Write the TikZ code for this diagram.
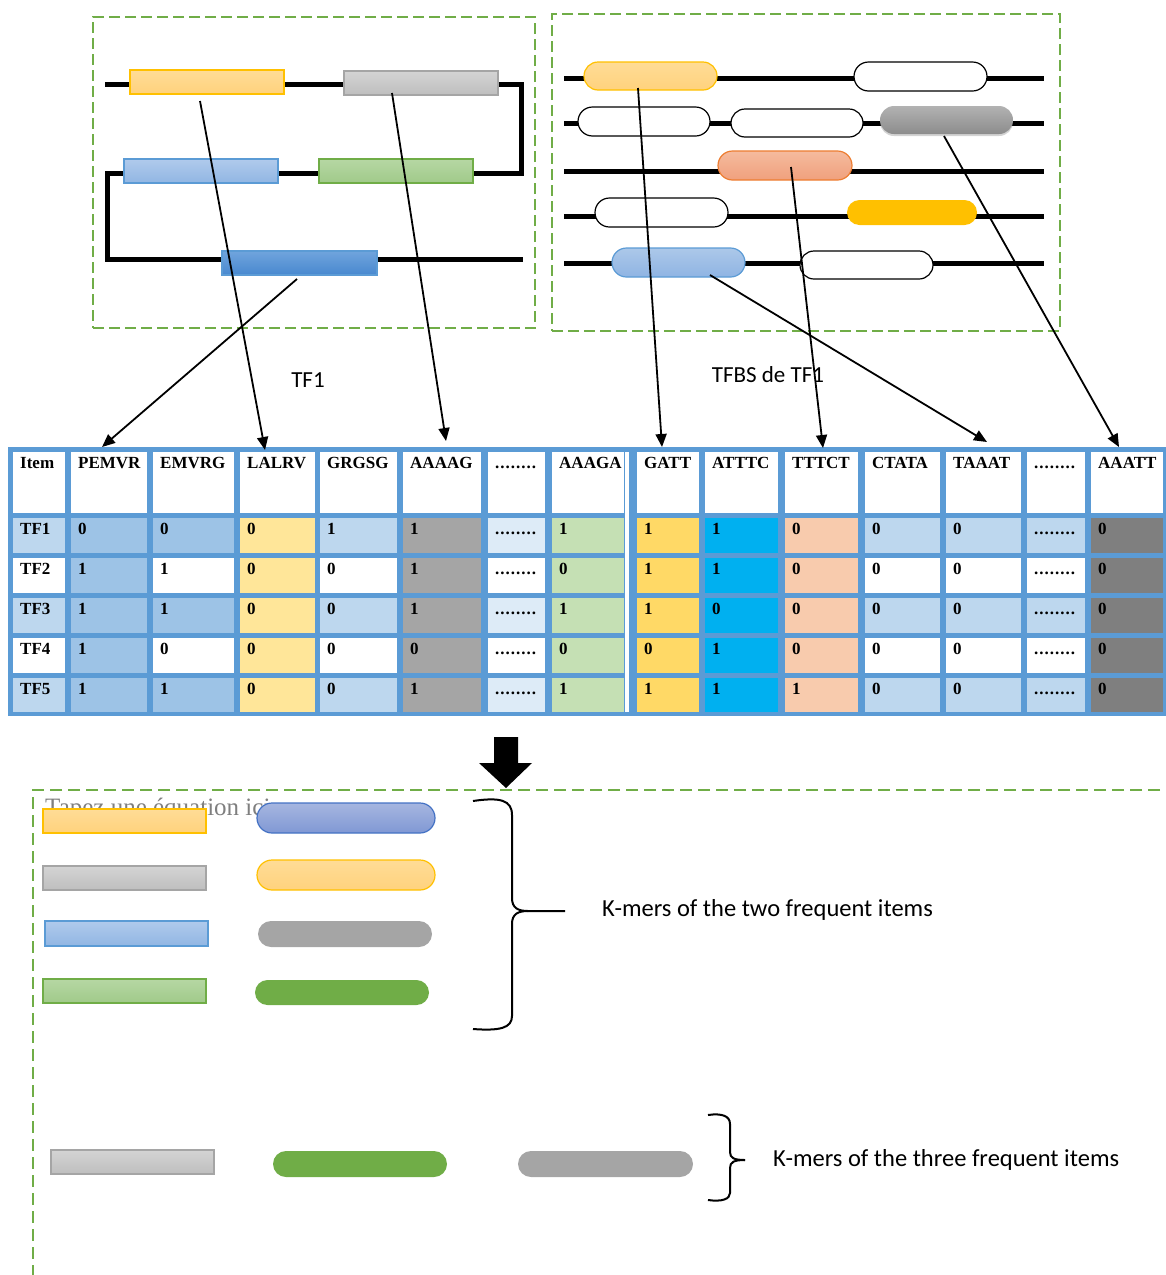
\documentclass[tikz,border=0pt]{standalone}
\usepackage{fontspec}
\setmainfont{Liberation Serif}
\newfontfamily\calib{Carlito}
\usetikzlibrary{arrows.meta,shapes.misc,shadows}
\definecolor{dgreen}{HTML}{70AD47}
\definecolor{tblue}{HTML}{5B9BD5}
\definecolor{lb}{HTML}{BDD7EE}
\definecolor{mb}{HTML}{9DC3E6}
\definecolor{vlb}{HTML}{DDEBF7}
\definecolor{ly}{HTML}{FFE699}
\definecolor{gA}{HTML}{A5A5A5}
\definecolor{lg}{HTML}{C5E0B4}
\definecolor{goldc}{HTML}{FFD966}
\definecolor{cyanb}{HTML}{00B0F0}
\definecolor{peach}{HTML}{F8CBAD}
\definecolor{dg}{HTML}{7F7F7F}
\definecolor{orY}{HTML}{FFC000}
\definecolor{salB}{HTML}{ED7D31}
\definecolor{purB}{HTML}{4472C4}
\newcommand\dts{.\kern1pt.\kern1pt.\kern1pt.\kern1pt.\kern1pt.\kern1pt.\kern1pt.}
\newcommand\boxat[6]{\node[#1, minimum width={#5-#3}, minimum height={#6-#4}] (#2) at ({(#3+#5)/2},{(#4+#6)/2}) {};}
\newcommand\tcell[7]{%
  \node[inner sep=0, outer sep=0, fill=#6, minimum width={#3-#2}, minimum height={#5-#4}] (#1) at ({(#2+#3)/2},{(#4+#5)/2}) {};
  \node[tval, anchor=base west] at ([shift={(7,16)}]#1.north west) {#7};}
\tikzset{
  dashbox/.style={draw=dgreen, line width=2.2pt, dash pattern=on 11pt off 5pt, inner sep=0, outer sep=0},
  dna/.style={line width=5pt},
  seg/.style={rectangle, inner sep=0, outer sep=0, line width=1.2pt},
  pill/.style={rounded rectangle, inner sep=0, outer sep=0, line width=1.2pt},
  wpill/.style={pill, draw=black, fill=white},
  arr/.style={line width=1.8pt, -{Triangle[length=13pt,width=11pt]}},
  tval/.style={inner sep=0, font=\bfseries\fontsize{17}{17}\selectfont},
  lab/.style={font=\calib\fontsize{23}{25}\selectfont, inner sep=0},
  klab/.style={font=\calib\fontsize{24.5}{26}\selectfont, inner sep=0},
  brace/.style={line width=2pt},
  yrect/.style={seg, draw=orY, top color={rgb,255:red,255;green,220;blue,150}, bottom color={rgb,255:red,255;green,210;blue,125}},
  grect/.style={seg, draw=gA, top color={rgb,255:red,212;green,212;blue,212}, bottom color={rgb,255:red,190;green,190;blue,190}},
  brect/.style={seg, draw=tblue, top color={rgb,255:red,176;green,202;blue,236}, bottom color={rgb,255:red,145;green,182;blue,227}},
  lgrect/.style={seg, draw=dgreen, top color={rgb,255:red,182;green,215;blue,163}, bottom color={rgb,255:red,160;green,202;blue,138}},
}
\begin{document}
\begin{tikzpicture}[x=1pt,y=-1pt]
\useasboundingbox (0,0) rectangle (1166,1275);
% ---------- top-left box
\boxat{dashbox}{boxL}{93}{17}{535}{328}
\draw[dna] (105,84) -- (521,84) -- (521,173) -- (107,173) -- (107,259) -- (523,259);
\boxat{yrect}{L1}{130}{70}{284}{94}
\boxat{grect}{L2}{344}{71}{498}{95}
\boxat{brect}{L3}{124}{159}{278}{183}
\boxat{lgrect}{L4}{319}{159}{473}{183}
\boxat{seg, draw=tblue, top color={rgb,255:red,112;green,164;blue,221}, bottom color={rgb,255:red,72;green,136;blue,207}}{L5}{222}{251}{377}{275}
% ---------- top-right box
\boxat{dashbox}{boxR}{552}{14}{1060}{331}
\foreach \yy in {78,123,171,216,263} {\draw[dna] (564,\yy) -- (1044,\yy);}
\boxat{pill, draw=orY, top color={rgb,255:red,255;green,220;blue,150}, bottom color={rgb,255:red,255;green,210;blue,125}}{R1}{584}{62}{717}{90}
\boxat{wpill}{R2}{854}{62}{987}{91}
\boxat{wpill}{R3}{578}{107}{710}{136}
\boxat{wpill}{R4}{731}{109}{863}{137}
\boxat{pill, top color={rgb,255:red,178;green,178;blue,178}, bottom color={rgb,255:red,140;green,140;blue,140}, drop shadow={shadow xshift=0pt, shadow yshift=-2pt, opacity=0.35}}{R5}{880}{106}{1013}{134}
\boxat{pill, draw=salB, top color={rgb,255:red,245;green,187;blue,158}, bottom color={rgb,255:red,240;green,160;blue,125}}{R6}{718}{151}{852}{180}
\boxat{wpill}{R7}{595}{198}{728}{227}
\boxat{pill, fill=orY}{R8}{847}{200}{977}{225}
\boxat{pill, draw=tblue, top color={rgb,255:red,172;green,200;blue,233}, bottom color={rgb,255:red,143;green,180;blue,227}}{R9}{612}{248}{745}{277}
\boxat{wpill}{R10}{800}{251}{933}{279}
% ---------- labels
\node[lab] (tf1) at (308,380) {TF1};
\node[lab] (tfbs) at (768,375) {TFBS de TF1};
% ---------- table
\boxat{fill=tblue, inner sep=0, outer sep=0}{tbl}{8}{447}{1166}{716}
\foreach \xa/\xb/\hd/\co/\ce/\va/\vb/\vc/\vd/\ve [count=\c] in {
 13/65/Item/lb/white/TF1/TF2/TF3/TF4/TF5,
 71/147/PEMVR/mb/mb/0/1/1/1/1,
 153/234/EMVRG/mb/white/0/1/1/0/1,
 240/315/LALRV/ly/ly/0/0/0/0/0,
 320/397/GRGSG/lb/white/1/0/0/0/0,
 403/481/AAAAG/gA/gA/1/1/1/0/1,
 488/545/\dts/vlb/white/\dts/\dts/\dts/\dts/\dts,
 552/624/AAAGA/lg/lg/1/0/1/0/1,
 637/699/GATT/goldc/goldc/1/1/1/0/1,
 705/778/ATTTC/cyanb/cyanb/1/1/0/1/1,
 785/858/TTTCT/peach/peach/0/0/0/0/1,
 865/940/CTATA/lb/white/0/0/0/0/0,
 946/1021/TAAAT/lb/white/0/0/0/0/0,
 1027/1085/\dts/lb/white/\dts/\dts/\dts/\dts/\dts,
 1091/1163/AAATT/dg/dg/0/0/0/0/0}{
 \tcell{h\c}{\xa}{\xb}{452}{513}{white}{\hd}
 \tcell{ra\c}{\xa}{\xb}{518}{553}{\co}{\va}
 \tcell{rb\c}{\xa}{\xb}{558}{593}{\ce}{\vb}
 \tcell{rc\c}{\xa}{\xb}{598}{633}{\co}{\vc}
 \tcell{rd\c}{\xa}{\xb}{638}{673}{\ce}{\vd}
 \tcell{re\c}{\xa}{\xb}{678}{712}{\co}{\ve}
}
\boxat{fill=white, inner sep=0, outer sep=0}{sepw}{625}{452}{629}{712}
% ---------- arrows
\coordinate (sL1) at (200,101); \coordinate (tL1) at (265,450);
\coordinate (sL2) at (392,93);  \coordinate (tL2) at (446,441);
\coordinate (sL3) at (297,279); \coordinate (tL3) at (102,447);
\coordinate (sR1) at (638,88);  \coordinate (tR1) at (662,447);
\coordinate (sR2) at (791,167); \coordinate (tR2) at (823,448);
\coordinate (sR3) at (710,275); \coordinate (tR3) at (987,442);
\coordinate (sR4) at (944,136); \coordinate (tR4) at (1119,447);
\foreach \a in {L1,L2,L3,R1,R2,R3,R4} {\draw[arr] (s\a) -- (t\a);}
% ---------- big arrow
\fill (494,737) -- (518,737) -- (518,763) -- (532,763) -- (506,788) -- (479,763) -- (494,763) -- cycle;
% ---------- bottom frame
\draw[draw=dgreen, line width=2.4pt, dash pattern=on 12pt off 6pt] (1160,790) -- (33,790) -- (33,1275);
\node[anchor=base west, inner sep=0, text=dg, font=\fontsize{25}{25}\selectfont] (tapez) at (45,815) {Tapez une équation ici};
\boxat{yrect}{B1}{43}{809}{206}{833}
\boxat{grect}{B2}{43}{866}{206}{890}
\boxat{brect}{B3}{45}{921}{208}{946}
\boxat{lgrect}{B4}{43}{979}{206}{1003}
\boxat{pill, draw=purB, top color={rgb,255:red,166;green,182;blue,224}, bottom color={rgb,255:red,128;green,152;blue,212}}{O1}{257}{803}{435}{833}
\boxat{pill, draw=orY, top color={rgb,255:red,255;green,220;blue,150}, bottom color={rgb,255:red,255;green,210;blue,125}}{O2}{257}{860}{435}{890}
\boxat{pill, fill=gA}{O3}{258}{921}{432}{947}
\boxat{pill, fill=dgreen}{O4}{255}{980}{429}{1005}
\boxat{grect}{C1}{51}{1150}{214}{1174}
\boxat{pill, fill=dgreen}{C2}{273}{1151}{447}{1177}
\boxat{pill, fill=gA}{C3}{518}{1151}{693}{1177}
% ---------- braces
\draw[brace] (473,801) .. controls (500,797) and (512,800) .. (512,815) -- (512,898) .. controls (512,908) and (518,911) .. (528,911) -- (565,911);
\draw[brace] (528,911) .. controls (518,911) and (512,914) .. (512,924) -- (512,1016) .. controls (512,1028) and (500,1031) .. (473,1029);
\draw[brace] (708,1115) .. controls (722,1113) and (730,1116) .. (730,1124) -- (730,1152) .. controls (730,1158) and (734,1160) .. (745,1160);
\draw[brace] (745,1160) .. controls (734,1160) and (730,1162) .. (730,1168) -- (730,1193) .. controls (730,1199) and (722,1202) .. (708,1200);
\node[klab, anchor=west] (k2) at (602,910) {K-mers of the two frequent items};
\node[klab, anchor=west] (k3) at (773,1160) {K-mers of the three frequent items};
\end{tikzpicture}
\end{document}
